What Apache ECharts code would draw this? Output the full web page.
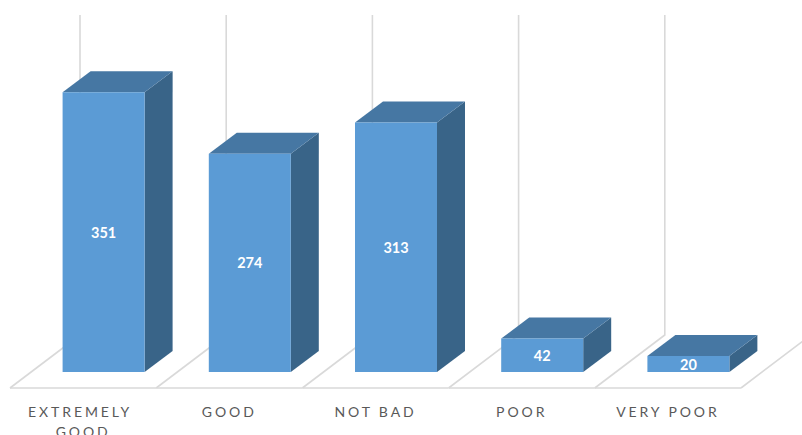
<!DOCTYPE html>
<html>
<head>
<meta charset="utf-8">
<style>
html,body{margin:0;padding:0;background:#fff;overflow:hidden}
#c{width:802px;height:435px}
text[fill="#595959"]{letter-spacing:2.9px}
</style>
<script src="https://cdn.jsdelivr.net/npm/echarts@6/dist/echarts.min.js"></script>
</head>
<body>
<div id="c"></div>
<script>
var categories = ['EXTREMELY GOOD', 'GOOD', 'NOT BAD', 'POOR', 'VERY POOR'];
var values = [351, 274, 313, 42, 20];

var frontColor = '#5B9BD5', topColor = '#4677A3', sideColor = '#396488', wallColor = '#D9D9D9';
var barDepth = [28, 21], barWidth = 82, barShift = 20.5;
var floorDepth = [70, 53], floorDrop = 16;

var chart = echarts.init(document.getElementById('c'), null, {renderer: 'svg'});

function wallItem(params, api) {
  var i = api.value(0), band = api.size([1, 0])[0];
  var base = api.coord([i, 0]), topY = api.coord([i, api.value(1)])[1];
  var y = base[1] + floorDrop, lines = [];
  var xs = i === categories.length - 1 ? [base[0] - band / 2, base[0] + band / 2] : [base[0] - band / 2];
  xs.forEach(function (x0) {
    lines.push({type: 'polyline', shape: {points: [
      [x0 + floorDepth[0], topY],
      [x0 + floorDepth[0], y - floorDepth[1]],
      [x0, y]
    ]}, style: {stroke: wallColor, lineWidth: 1.6, fill: 'none'}});
  });
  lines.push({type: 'line', shape: {x1: base[0] - band / 2, y1: y, x2: base[0] + band / 2, y2: y},
    style: {stroke: wallColor, lineWidth: 1.6}});
  return {type: 'group', children: lines};
}

function barItem(params, api) {
  var i = api.value(0), v = api.value(1);
  var b = api.coord([i, 0]), t = api.coord([i, v]);
  var l = b[0] + barShift - barWidth / 2, r = l + barWidth;
  var dx = barDepth[0], dy = barDepth[1];
  return {type: 'group', children: [
    {type: 'polygon', shape: {points: [[r, t[1]], [r + dx, t[1] - dy], [r + dx, b[1] - dy], [r, b[1]]]},
      style: {fill: sideColor}},
    {type: 'polygon', shape: {points: [[l, t[1]], [l + dx, t[1] - dy], [r + dx, t[1] - dy], [r, t[1]]]},
      style: {fill: topColor}},
    {type: 'rect', shape: {x: l, y: t[1], width: barWidth, height: b[1] - t[1]},
      style: {fill: frontColor}},
    {type: 'text', x: (l + r) / 2, y: (t[1] + b[1]) / 2,
      style: {text: String(v), fill: '#ffffff', font: 'bold 14.5px Lato, "Open Sans", sans-serif',
        align: 'center', verticalAlign: 'middle'}}
  ]};
}

var yMax = 448;
chart.setOption({
  animation: false,
  backgroundColor: '#ffffff',
  grid: {left: 10, right: 61, top: 15, bottom: 63, containLabel: false, outerBoundsMode: 'none'},
  xAxis: {
    type: 'category', data: categories,
    axisLine: {show: false}, axisTick: {show: false}, splitLine: {show: false},
    axisLabel: {color: '#595959', fontFamily: 'Lato', fontSize: 14, margin: 29, lineHeight: 20,
      width: 110, overflow: 'break', interval: 0, hideOverlap: false}
  },
  yAxis: {type: 'value', min: 0, max: yMax, show: false},
  series: [
    {type: 'custom', clip: false, silent: true, renderItem: wallItem,
      data: categories.map(function (c, i) { return [i, yMax]; }), encode: {x: 0, y: 1}},
    {type: 'custom', clip: false, silent: true, renderItem: barItem,
      data: values.map(function (v, i) { return [i, v]; }), encode: {x: 0, y: 1}}
  ]
});
</script>
</body>
</html>
